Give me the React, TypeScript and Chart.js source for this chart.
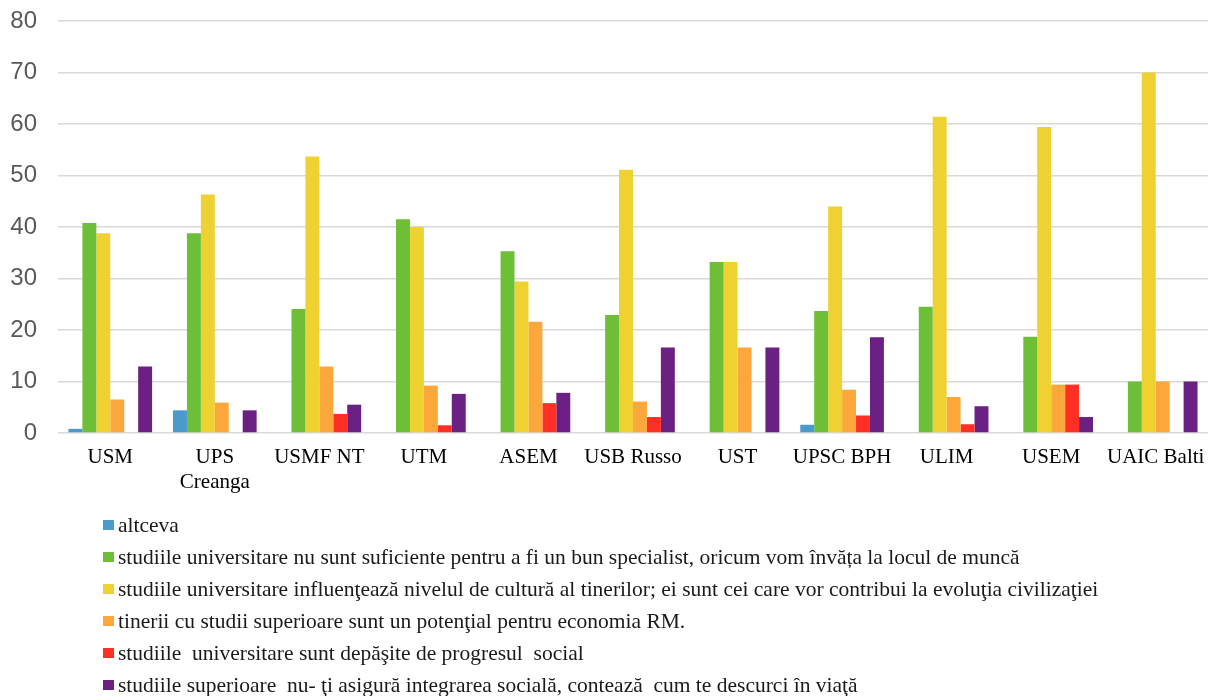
import React, { useEffect, useRef } from "react";
import { Chart, registerables } from "chart.js";

Chart.register(...registerables);

const categories: (string | string[])[] = [
  "USM", ["UPS", "Creanga"], "USMF NT", "UTM", "ASEM", "USB Russo", "UST", "UPSC BPH", "ULIM", "USEM", "UAIC Balti",
];

const seriesLabels = [
  "altceva",
  "studiile universitare nu sunt suficiente pentru a fi un bun specialist, oricum vom învăța la locul de muncă",
  "studiile universitare influenţează nivelul de cultură al tinerilor; ei sunt cei care vor contribui la evoluţia civilizaţiei",
  "tinerii cu studii superioare sunt un potenţial pentru economia RM.",
  "studiile  universitare sunt depăşite de progresul  social",
  "studiile superioare  nu- ţi asigură integrarea socială, contează  cum te descurci în viaţă",
];

const altceva = [0.8, 4.4, 0, 0, 0, 0, 0, 1.6, 0, 0, 0];
const nuSuficiente = [40.8, 38.8, 24.1, 41.5, 35.3, 22.9, 33.2, 23.7, 24.5, 18.7, 10];
const influenteaza = [38.8, 46.3, 53.7, 40.0, 29.4, 51.1, 33.2, 44.0, 61.4, 59.4, 70];
const potential = [6.5, 5.9, 12.9, 9.2, 21.6, 6.1, 16.6, 8.4, 7.0, 9.4, 10];
const depasite = [0, 0, 3.7, 1.5, 5.8, 3.1, 0, 3.4, 1.7, 9.4, 0];
const integrare = [12.9, 4.4, 5.5, 7.6, 7.8, 16.6, 16.6, 18.6, 5.2, 3.1, 10];

const seriesValues = [altceva, nuSuficiente, influenteaza, potential, depasite, integrare];
const colors = ["#4A9BCB", "#6EBF38", "#EFD132", "#FCA73B", "#FE3026", "#6B2183"];

const yTicks = [0, 10, 20, 30, 40, 50, 60, 70, 80];

const legendPlugin = {
  id: "vertLegend",
  afterDraw(chart: any) {
    const ctx = chart.ctx;
    ctx.save();
    ctx.font = '21.5px "Liberation Serif"';
    ctx.textBaseline = "middle";
    ctx.textAlign = "left";
    chart.data.datasets.forEach((ds: any, i: number) => {
      const y = 525 + i * 32;
      ctx.fillStyle = ds.backgroundColor;
      ctx.fillRect(103, y - 5, 11, 10);
      ctx.fillStyle = "#1a1a1a";
      ctx.fillText(ds.label, 118, y + 1);
    });
    ctx.restore();
  },
};

export default function App() {
  const ref = useRef<HTMLCanvasElement>(null);
  useEffect(() => {
    if (!ref.current) return;
    const chart = new Chart(ref.current, {
      type: "bar",
      data: {
        labels: categories as any,
        datasets: seriesLabels.map((label, i) => ({
          label,
          data: seriesValues[i],
          backgroundColor: colors[i],
          borderWidth: 0,
          categoryPercentage: 0.8,
          barPercentage: 1.0,
        })),
      },
      options: {
        responsive: false,
        animation: false,
        layout: { padding: { left: 0, right: 2, top: 21, bottom: 0 } },
        plugins: { legend: { display: false }, tooltip: { enabled: false } },
        scales: {
          x: {
            grid: { display: false, drawTicks: false },
            border: { display: false },
            afterFit: (axis: any) => {
              axis.height = 263;
              axis.paddingLeft = 0;
              axis.paddingRight = 0;
            },
            ticks: {
              color: "#000",
              font: { family: "Liberation Serif", size: 21, lineHeight: 1.2 },
              padding: 12,
              maxRotation: 0,
              autoSkip: false,
            },
          },
          y: {
            min: 0,
            max: 80,
            afterBuildTicks: (axis: any) => {
              axis.ticks = yTicks.map((v) => ({ value: v }));
            },
            afterFit: (axis: any) => {
              axis.width = 58;
              axis.paddingTop = 0;
              axis.paddingBottom = 0;
            },
            grid: { color: "#d9d9d9", lineWidth: 1.5, drawTicks: false },
            border: { display: false },
            ticks: {
              color: "#595959",
              font: { family: "Liberation Sans", size: 24 },
              padding: 21,
            },
          },
        },
      },
      plugins: [legendPlugin],
    });
    return () => chart.destroy();
  }, []);
  return (
    <div style={{ position: "absolute", left: 0, top: 0, width: 1210, height: 696, background: "#fff" }}>
      <canvas ref={ref} width={1210} height={696} style={{ display: "block" }} />
    </div>
  );
}
